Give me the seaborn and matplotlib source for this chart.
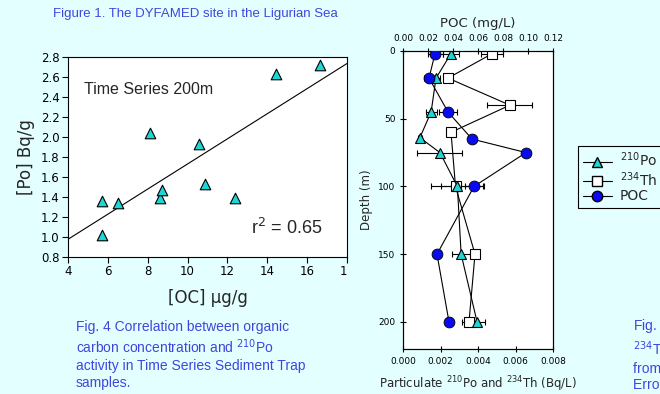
import matplotlib
matplotlib.use("Agg")
import matplotlib.pyplot as plt
from matplotlib.lines import Line2D
from matplotlib.transforms import Bbox, TransformedBbox
import numpy as np
import seaborn as sns

# Fig. 4: organic carbon vs 210Po activity (time series trap, 200 m)
oc_ugg = [5.71, 6.51, 5.71, 8.11, 8.62, 8.73, 10.55, 10.88, 12.37, 14.44, 16.66]
po_bqg = [1.36, 1.34, 1.02, 2.04, 1.39, 1.47, 1.93, 1.53, 1.39, 2.63, 2.72]

# Depth profiles at DYFAMED
depth_po = [2, 20, 45, 64, 75, 100, 150, 200]
po_bql = [0.00256, 0.00176, 0.0015, 0.0009, 0.00197, 0.0029, 0.0031, 0.00395]
po_err = [0.00045, 0.0002, 0.0003, 0.0001, 0.0012, 0.0014, 0.0005, 0.0004]

depth_th = [2, 20, 40, 60, 100, 150, 200]
th_bql = [0.00475, 0.0024, 0.0057, 0.00256, 0.0028, 0.00384, 0.00352]
th_err = [0.0006, 0.0002, 0.0012, 0.0001, 0.0008, 0.0002, 0.0004]

depth_poc = [2, 20, 45, 65, 75, 100, 150, 200]
poc_mgl = [0.0256, 0.0208, 0.036, 0.0552, 0.0984, 0.0568, 0.0272, 0.0368]
poc_err = [0.006, 0.004, 0.007, 0, 0, 0.007, 0, 0]

bg = "#E3FFFF"
cyan = "#1FD6D6"
blue = "#0A0AF0"
capblue = "#4444DD"

sns.set_style("ticks")
plt.rcParams["font.family"] = ["DejaVu Sans"]
plt.rcParams["axes.linewidth"] = 0.8

fig = plt.figure(figsize=(6.6, 3.94), dpi=100, facecolor=bg)

# ---- left panel: scatter + regression ----
ax1 = fig.add_axes([68 / 660, 1 - 257 / 394, 279 / 660, 200 / 394])
ax1.set_facecolor("white")
ax1.set_xlim(4, 18)
ax1.set_ylim(0.8, 2.8)
sns.regplot(
    x=oc_ugg, y=po_bqg, ax=ax1, ci=None, truncate=False, marker="^",
    scatter_kws=dict(s=58, color=cyan, edgecolor="black", linewidths=0.8, alpha=1, zorder=3),
    line_kws=dict(color="black", lw=0.8),
)
ax1.set_xlim(4, 18)
ax1.set_xticks(np.arange(4, 19, 2))
ax1.set_yticks(np.arange(0.8, 2.81, 0.2))
ax1.set_yticklabels(["%.1f" % v for v in np.arange(0.8, 2.81, 0.2)])
ax1.tick_params(direction="out", length=4, width=0.8, labelsize=8.5, colors="black", pad=2)
for s in ax1.spines.values():
    s.set_visible(True)
    s.set_color("black")
    s.set_linewidth(0.8)
ax1.set_xlabel("[OC] μg/g", fontsize=12, labelpad=8)
ax1.set_ylabel("[Po] Bq/g", fontsize=12, labelpad=4)
ax1.text(0.29, 0.84, "Time Series 200m", transform=ax1.transAxes, ha="center", va="center",
         fontsize=11.5, family="Liberation Sans")
ax1.text(0.785, 0.145, "r$^2$ = 0.65", transform=ax1.transAxes, ha="center", va="center",
         fontsize=13, family="Liberation Sans")

# last x tick label is cut by the slide frame
clip = TransformedBbox(Bbox.from_extents(0, 0, 347 / 660, 1), fig.transFigure)
for lbl in ax1.get_xticklabels():
    lbl.set_clip_box(clip)
    lbl.set_clip_on(True)

# ---- right panel: depth profiles ----
ax2 = fig.add_axes([403 / 660, 1 - 349 / 394, 150 / 660, 298 / 394])
ax2.set_facecolor("white")
ax2.errorbar(po_bql, depth_po, xerr=po_err, fmt="none", ecolor="black",
             elinewidth=0.8, capsize=2, capthick=0.8, zorder=2)
ax2.errorbar(th_bql, depth_th, xerr=th_err, fmt="none", ecolor="black",
             elinewidth=0.8, capsize=2, capthick=0.8, zorder=2)
sns.lineplot(x=th_bql, y=depth_th, ax=ax2, orient="y", sort=False, estimator=None,
             color="black", lw=0.8, marker="s", markersize=6.5,
             markerfacecolor="white", markeredgecolor="black", markeredgewidth=0.8, zorder=3)
sns.lineplot(x=po_bql, y=depth_po, ax=ax2, orient="y", sort=False, estimator=None,
             color="black", lw=0.8, marker="^", markersize=7,
             markerfacecolor=cyan, markeredgecolor="black", markeredgewidth=0.8, zorder=3)
ax2.set_xlim(0, 0.008)
ax2.set_ylim(220, 0)
ax2.set_xticks(np.arange(0, 0.0081, 0.002))
ax2.set_xticklabels(["%.3f" % v for v in np.arange(0, 0.0081, 0.002)])
ax2.set_yticks([0, 50, 100, 150, 200])
ax2.tick_params(direction="inout", length=5, width=0.8, labelsize=6.5, colors="black", pad=3)
ax2.set_xlabel("Particulate $^{210}$Po and $^{234}$Th (Bq/L)", fontsize=8.5, labelpad=6)
ax2.set_ylabel("Depth (m)", fontsize=8.5, labelpad=4)
for s in ax2.spines.values():
    s.set_visible(True)
    s.set_color("black")
    s.set_linewidth(0.8)

ax3 = ax2.twiny()
ax3.errorbar(poc_mgl, depth_poc, xerr=poc_err, fmt="none", ecolor="black",
             elinewidth=0.8, capsize=2, capthick=0.8, zorder=2)
sns.lineplot(x=poc_mgl, y=depth_poc, ax=ax3, orient="y", sort=False, estimator=None,
             color="black", lw=0.8, marker="o", markersize=7.8,
             markerfacecolor=blue, markeredgecolor="black", markeredgewidth=0.6, zorder=3)
ax3.set_xlim(0, 0.12)
ax3.set_ylim(220, 0)
ax3.set_xticks(np.arange(0, 0.121, 0.02))
ax3.set_xticklabels(["%.2f" % v for v in np.arange(0, 0.121, 0.02)])
ax3.tick_params(direction="inout", length=5, width=0.8, labelsize=6.5, colors="black", pad=3)
ax3.set_xlabel("POC (mg/L)", fontsize=9.5, labelpad=5)
ax3.set_ylabel("")
for s in ax3.spines.values():
    s.set_visible(True)
    s.set_color("black")
    s.set_linewidth(0.8)

handles = [
    Line2D([], [], color="black", lw=0.8, marker="^", markersize=7,
           markerfacecolor=cyan, markeredgecolor="black"),
    Line2D([], [], color="black", lw=0.8, marker="s", markersize=6.5,
           markerfacecolor="white", markeredgecolor="black"),
    Line2D([], [], color="black", lw=0.8, marker="o", markersize=7.5,
           markerfacecolor=blue, markeredgecolor="black"),
]
leg = fig.legend(handles, ["$^{210}$Po", "$^{234}$Th", "POC"], loc="upper left",
                 bbox_to_anchor=(578 / 660, 1 - 146 / 394), fontsize=10, frameon=True,
                 fancybox=False, edgecolor="black", facecolor=bg, framealpha=1,
                 handlelength=2.1, handletextpad=0.55, labelspacing=0.05, borderpad=0.35,
                 borderaxespad=0)
leg.get_frame().set_linewidth(0.8)

# ---- slide captions ----
fig.text(53 / 660, 1 - 14 / 394, "Figure 1. The DYFAMED site in the Ligurian Sea",
         color=capblue, fontsize=9.5, family="Liberation Sans", va="center", ha="left")
fig.text(76 / 660, 1 - 320 / 394,
         "Fig. 4 Correlation between organic\ncarbon concentration and $^{210}$Po\n"
         "activity in Time Series Sediment Trap\nsamples.",
         color=capblue, fontsize=10, family="Liberation Sans", va="top", ha="left",
         linespacing=1.25)
fig.text(633 / 660, 1 - 315 / 394,
         "Fig. 2 Particulate $^{210}$Po,\n$^{234}$Th and POC profiles\n"
         "from the DYFAMED site.\nError bars are 1 sigma.",
         color=capblue, fontsize=10, family="Liberation Sans", va="top", ha="left",
         linespacing=1.15)

fig.savefig("out.png", dpi=100, facecolor=bg)
